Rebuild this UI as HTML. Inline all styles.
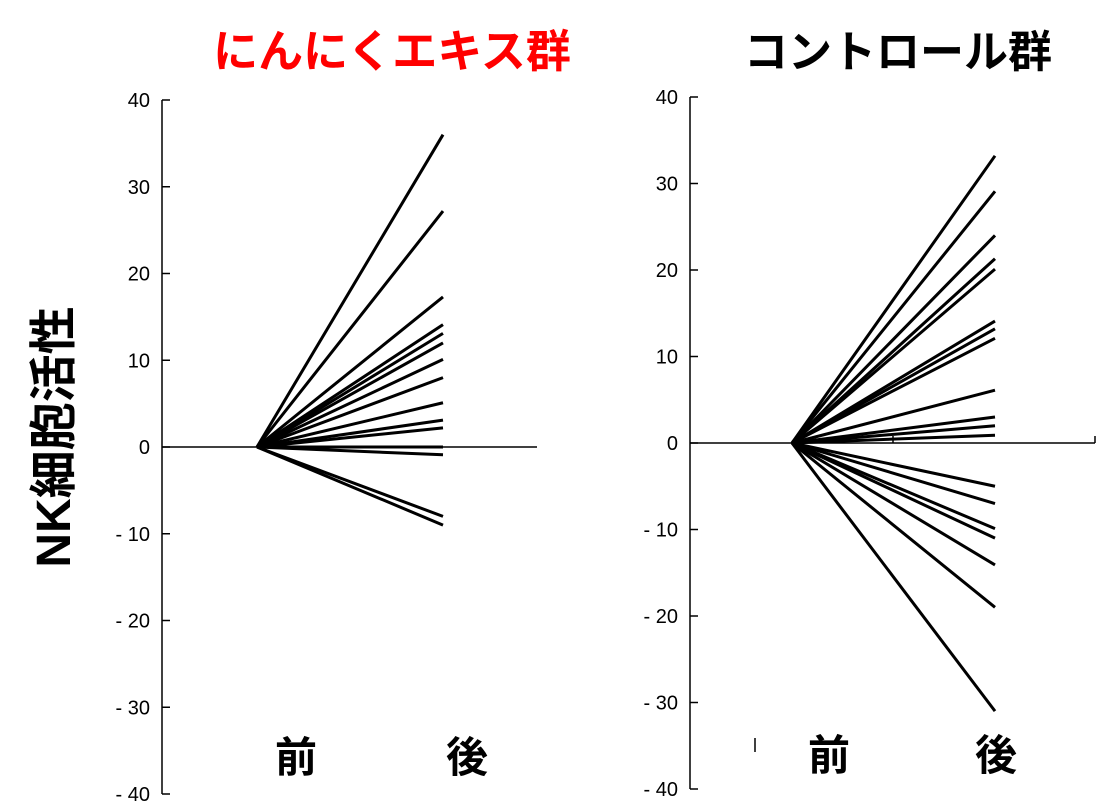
<!DOCTYPE html>
<html><head><meta charset="utf-8"><style>
body{margin:0;background:#fff;}
svg{display:block;font-family:"Liberation Sans","Noto Sans CJK JP",sans-serif;}
</style></head><body>
<svg id="c" width="1100" height="811">
<text x="392" y="67" font-size="45" font-weight="bold" fill="#ff0000" text-anchor="middle">にんにくエキス群</text>
<text x="898" y="67" font-size="44" font-weight="bold" fill="#000" text-anchor="middle">コントロール群</text>
<text transform="translate(70,437) rotate(-90)" font-size="48" font-weight="bold" text-anchor="middle">NK細胞活性</text>
<text x="296" y="772" font-size="42" font-weight="bold" text-anchor="middle">前</text>
<text x="467" y="772" font-size="42" font-weight="bold" text-anchor="middle">後</text>
<text x="829" y="770" font-size="42" font-weight="bold" text-anchor="middle">前</text>
<text x="996" y="770" font-size="42" font-weight="bold" text-anchor="middle">後</text>
<line x1="755" y1="738" x2="755" y2="752" stroke="#000" stroke-width="1.5"/>
</svg>
<script>
const ticks=[40,30,20,10,0,-10,-20,-30,-40];
const tickLabels=["40","30","20","10","0","- 10","- 20","- 30","- 40"];
const garlicAfter=[36,27.2,17.3,14.1,13.1,12.0,10.1,8.0,5.1,3.1,2.2,0,-0.9,-8,-9];
const controlAfter=[33.2,29.1,24.0,21.3,20.1,14.1,13.2,12.1,6.1,3.0,2.0,0.9,-5,-7,-9.9,-11,-14.1,-19,-31];
const svg=document.getElementById('c');
const NS='http://www.w3.org/2000/svg';
function mk(t,a){const e=document.createElementNS(NS,t);for(const k in a)e.setAttribute(k,a[k]);svg.appendChild(e);return e;}
function panel(p,vals,prefix){
  const y=v=>p.y0-v*p.k;
  const ax=mk('line',{x1:p.ax,y1:y(40),x2:p.ax,y2:y(-40),stroke:'#000','stroke-width':1.5});
  
  
  ticks.forEach((t,i)=>{
    const tk=mk('line',{x1:p.ax,y1:y(t),x2:p.ax+8,y2:y(t),stroke:'#000','stroke-width':1.5});
    
    
    const tx=mk('text',{x:p.ax-12,y:y(t)+7,'font-size':20,'text-anchor':'end'});
    tx.textContent=tickLabels[i];
    
    
  });
  const bl=mk('line',{x1:p.ax,y1:y(0),x2:p.xe,y2:y(0),stroke:'#000','stroke-width':1.5});
  
  
  vals.forEach(v=>{
    const l=mk('line',{x1:p.x1,y1:y(0),x2:p.x2,y2:y(v),stroke:'#000','stroke-width':3});
    
    
  });
  return y;
}
panel({ax:162,y0:447,k:8.675,x1:257,x2:443,xe:537},garlicAfter,'garlic');
const yr=panel({ax:690,y0:443,k:8.65,x1:792,x2:995,xe:1095},controlAfter,'control');
const t1=mk('line',{x1:893,y1:443,x2:893,y2:436,stroke:'#000','stroke-width':1.5});


const t2=mk('line',{x1:1095,y1:443,x2:1095,y2:436,stroke:'#000','stroke-width':1.5});


</script>
</body></html>
